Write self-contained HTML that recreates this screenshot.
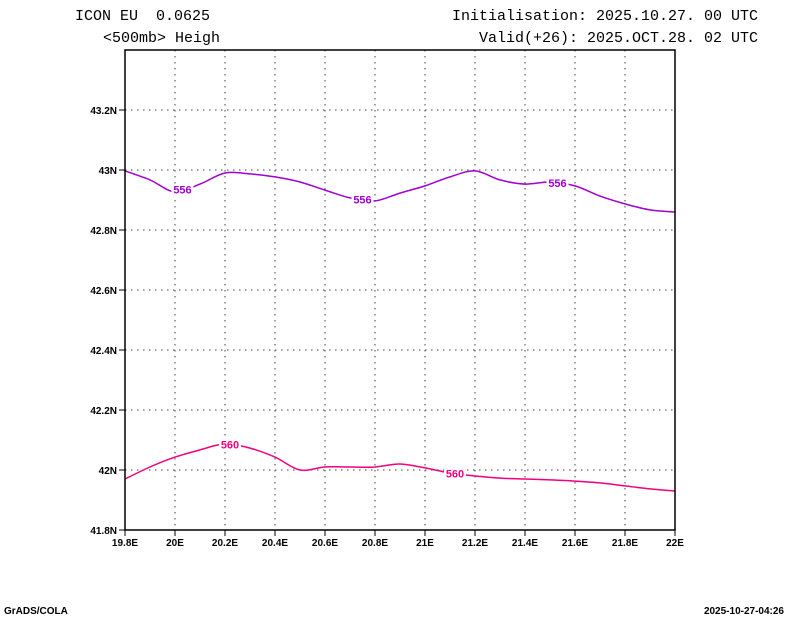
<!DOCTYPE html>
<html><head><meta charset="utf-8"><style>
body{margin:0;background:#fff;}
svg{display:block;font-family:"Liberation Mono","DejaVu Sans Mono",monospace;}
</style></head><body>
<svg id="c" width="800" height="618">
<text x="75" y="20" font-size="15">ICON EU&#160; 0.0625</text>
<text x="103" y="42" font-size="15">&lt;500mb&gt; Heigh</text>
<text x="758" y="20" font-size="15" text-anchor="end">Initialisation: 2025.10.27. 00 UTC</text>
<text x="758" y="42" font-size="15" text-anchor="end">Valid(+26): 2025.OCT.28. 02 UTC</text>
<text x="4" y="614" font-size="10" font-weight="bold" font-family="Liberation Sans,sans-serif">GrADS/COLA</text>
<text x="784" y="614" font-size="10" font-weight="bold" font-family="Liberation Sans,sans-serif" text-anchor="end">2025-10-27-04:26</text>
<g id="grid"></g><g id="lines"></g>
<rect x="125" y="50" width="550" height="480" fill="none" stroke="#000" stroke-width="1.5"/>
</svg>
<script>
const lons=[19.8,19.9,20.0,20.1,20.2,20.3,20.4,20.5,20.6,20.7,20.8,20.9,21.0,21.1,21.2,21.3,21.4,21.5,21.6,21.7,21.8,21.9,22.0];
const h556=[42.997,42.967,42.927,42.953,42.990,42.987,42.977,42.960,42.933,42.907,42.897,42.923,42.947,42.977,42.997,42.967,42.953,42.960,42.947,42.913,42.887,42.867,42.860];
const h560=[41.970,42.010,42.043,42.067,42.087,42.073,42.043,42.000,42.010,42.010,42.010,42.020,42.007,41.990,41.980,41.973,41.970,41.967,41.963,41.957,41.947,41.937,41.930];
const xTicks=[19.8,20.0,20.2,20.4,20.6,20.8,21.0,21.2,21.4,21.6,21.8,22.0];
const xLabels=["19.8E","20E","20.2E","20.4E","20.6E","20.8E","21E","21.2E","21.4E","21.6E","21.8E","22E"];
const yTicks=[41.8,42.0,42.2,42.4,42.6,42.8,43.0,43.2];
const yLabels=["41.8N","42N","42.2N","42.4N","42.6N","42.8N","43N","43.2N"];
const lab556=[20.03,20.75,21.53];
const lab560=[20.22,21.12];
const X=v=>125+(v-19.8)*250, Y=v=>530-(v-41.8)*300;
const NS="http://www.w3.org/2000/svg";
function mk(t,a,p){const e=document.createElementNS(NS,t);for(const k in a)e.setAttribute(k,a[k]);p.appendChild(e);return e;}
const svg=document.getElementById('c'),grid=document.getElementById('grid'),lines=document.getElementById('lines');
xTicks.forEach((v,i)=>{
 if(i>0&&i<xTicks.length-1){const g=mk('line',{x1:X(v),x2:X(v),y1:50,y2:530,stroke:'#444','stroke-dasharray':'1.5 4.5'},grid);
 
 }
 const t=mk('line',{x1:X(v),x2:X(v),y1:530,y2:536,stroke:'#000'},grid);
 
 
 const l=mk('text',{x:X(v),y:546,'font-size':10,'font-weight':'bold','text-anchor':'middle','font-family':'Liberation Sans,sans-serif'},svg);l.textContent=xLabels[i];
 
 
});
yTicks.forEach((v,i)=>{
 if(i>0){const g=mk('line',{x1:125,x2:675,y1:Y(v),y2:Y(v),stroke:'#444','stroke-dasharray':'1.5 4.5'},grid);
 
 }
 const t=mk('line',{x1:119,x2:125,y1:Y(v),y2:Y(v),stroke:'#000'},grid);
 
 
 const l=mk('text',{x:117,y:Y(v)+4,'font-size':10,'font-weight':'bold','text-anchor':'end','font-family':'Liberation Sans,sans-serif'},svg);l.textContent=yLabels[i];
 
 
});
function path(vals){const p=lons.map((l,i)=>[X(l),Y(vals[i])]);let d='M'+p[0];
 for(let i=0;i<p.length-1;i++){const p0=p[Math.max(0,i-1)],p1=p[i],p2=p[i+1],p3=p[Math.min(p.length-1,i+2)];
 d+=`C${p1[0]+(p2[0]-p0[0])/6},${p1[1]+(p2[1]-p0[1])/6} ${p2[0]-(p3[0]-p1[0])/6},${p2[1]-(p3[1]-p1[1])/6} ${p2[0]},${p2[1]}`;}return d;}
function interp(vals,lon){const i=Math.min(lons.length-2,Math.floor((lon-19.8)/0.1+1e-9));const f=(lon-lons[i])/0.1;return vals[i]+(vals[i+1]-vals[i])*f;}
function contour(vals,col,labs,txt,name){
 const e=mk('path',{d:path(vals),fill:'none',stroke:col,'stroke-width':1.5},lines);
 
 
 labs.forEach(lon=>{const x=X(lon),y=Y(interp(vals,lon));
  mk('rect',{x:x-11,y:y-6,width:22,height:12,fill:'#fff'},lines);
  const t=mk('text',{x:x,y:y+4,'font-size':11,'font-weight':'bold','text-anchor':'middle',fill:col,'font-family':'Liberation Sans,sans-serif'},lines);t.textContent=txt;
  
  });
}
contour(h556,'#a000d0',lab556,'556','contour-556');
contour(h560,'#f0007f',lab560,'560','contour-560');
</script>
</body></html>
